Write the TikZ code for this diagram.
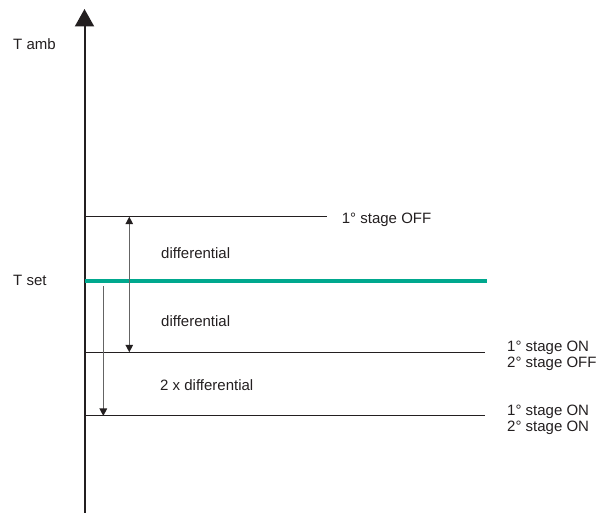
\documentclass[tikz,border=0pt]{standalone}
\usepackage{fontspec}
\setmainfont{Liberation Sans}
\usetikzlibrary{arrows.meta}
\definecolor{setgreen}{RGB}{0,168,142}
\definecolor{axisblack}{RGB}{35,31,32}
\definecolor{arrowgrey}{RGB}{100,100,100}
\begin{document}
\begin{tikzpicture}[x=1pt,y=-1pt,
  lbl/.style={anchor=base west,inner sep=0pt,font=\fontsize{15}{15.6}\selectfont,text=axisblack},
  level/.style={draw=axisblack,line width=1pt},
  smalltip/.tip={Triangle[width=7.5pt,length=7.5pt,color=axisblack]},
  diffarrow/.style={draw=arrowgrey,line width=1.3pt,-smalltip},
  diffarrowboth/.style={draw=arrowgrey,line width=1.3pt,smalltip-smalltip}
]
\useasboundingbox (0,0) rectangle (606,513);
% axis
\coordinate (axb) at (84.5,513);
\coordinate (axt) at (84.5,9);
\draw[axisblack,line width=2pt,-{Triangle[width=19pt,length=17.5pt]}] (axb) -- (axt);
% level lines
\coordinate (offL) at (84.5,216.7);
\coordinate (offR) at (327,216.7);
\coordinate (setL) at (84.5,280.7);
\coordinate (setR) at (487,280.7);
\coordinate (onL) at (84.5,352.3);
\coordinate (onR) at (485,352.3);
\coordinate (ononL) at (84.5,416);
\coordinate (ononR) at (485,416);
\draw[level] (offL) -- (offR);
\draw[level] (onL) -- (onR);
\draw[level] (ononL) -- (ononR);
\draw[setgreen,line width=3.7pt] (setL) -- (setR);
% differential arrows
\coordinate (d1t) at (129.3,216.7);
\coordinate (d1b) at (129.3,352.3);
\coordinate (d2t) at (103.3,286.5);
\coordinate (d2b) at (103.3,416);
\draw[diffarrowboth] (d1b) -- (d1t);
\draw[diffarrow] (d2t) -- (d2b);
% labels
\node[lbl] (tamb) at (13,49.3) {T amb};
\node[lbl] (tset) at (13,285.3) {T set};
\node[lbl] (off1) at (341.7,223.7) {1° stage OFF};
\node[lbl] (dif1) at (161,258.3) {differential};
\node[lbl] (dif2) at (161,327) {differential};
\node[lbl] (dif3) at (160,390.7) {2 x differential};
\node[lbl] (on1a) at (507,351.7) {1° stage ON};
\node[lbl] (on1b) at (507,367.3) {2° stage OFF};
\node[lbl] (on2a) at (507,416) {1° stage ON};
\node[lbl] (on2b) at (507,431.6) {2° stage ON};
\end{tikzpicture}
\end{document}
